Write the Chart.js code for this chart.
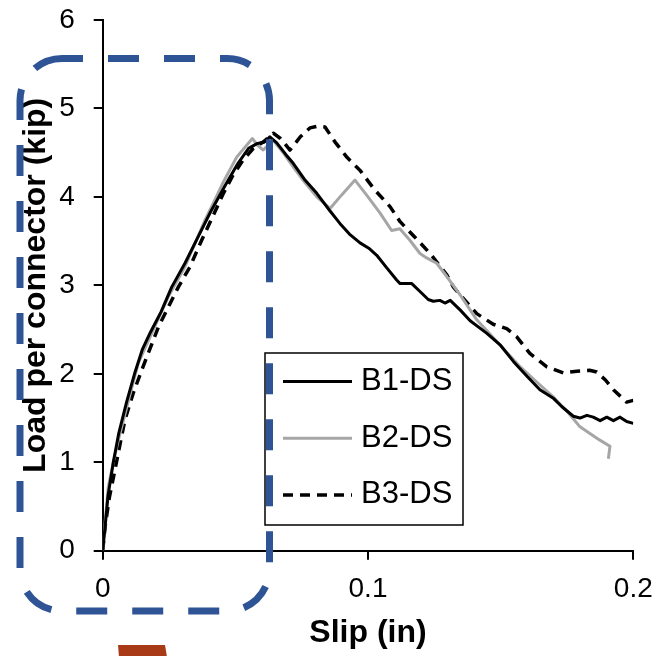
<!DOCTYPE html>
<html>
<head>
<meta charset="utf-8">
<script src="https://cdn.jsdelivr.net/npm/chart.js@4.4.1/dist/chart.umd.min.js"></script>
<style>
html, body { margin: 0; padding: 0; background: #fff; }
</style>
</head>
<body>
<canvas id="slipChart" width="658" height="656"></canvas>
<script>
// Datos: deslizamiento (in) y carga por conector (kip)
var seriesNames = ['B1-DS', 'B2-DS', 'B3-DS'];

var slipB1 = [0, 0.001, 0.002, 0.004, 0.006, 0.009, 0.012, 0.015, 0.018, 0.022, 0.026, 0.031, 0.036, 0.041, 0.046, 0.051, 0.055, 0.058, 0.061, 0.063, 0.0656, 0.069, 0.0718, 0.076, 0.0807, 0.0857, 0.0894, 0.093, 0.097, 0.1003, 0.1033, 0.107, 0.1108, 0.1121, 0.1165, 0.1196, 0.1227, 0.1246, 0.1271, 0.129, 0.131, 0.1348, 0.1385, 0.1447, 0.150, 0.1548, 0.160, 0.1648, 0.1700, 0.1730, 0.1774, 0.1799, 0.1825, 0.1849, 0.1875, 0.190, 0.1925, 0.195, 0.1975, 0.2];
var loadB1 = [0, 0.3, 0.62, 1.0, 1.32, 1.68, 2.0, 2.28, 2.47, 2.7, 2.98, 3.25, 3.55, 3.85, 4.12, 4.38, 4.55, 4.6, 4.62, 4.68, 4.61, 4.48, 4.38, 4.2, 4.04, 3.84, 3.70, 3.58, 3.48, 3.42, 3.34, 3.2, 3.06, 3.02, 3.02, 2.93, 2.84, 2.82, 2.83, 2.80, 2.83, 2.72, 2.60, 2.46, 2.32, 2.14, 1.97, 1.82, 1.72, 1.63, 1.52, 1.50, 1.53, 1.51, 1.47, 1.51, 1.47, 1.51, 1.46, 1.44];

var slipB2 = [0, 0.001, 0.0021, 0.004, 0.0059, 0.0097, 0.0134, 0.0185, 0.0247, 0.031, 0.0386, 0.0417, 0.0455, 0.0505, 0.0564, 0.0585, 0.0605, 0.0643, 0.068, 0.0718, 0.076, 0.0807, 0.0857, 0.09, 0.0951, 0.1, 0.1045, 0.1089, 0.112, 0.1158, 0.1196, 0.1221, 0.1259, 0.1297, 0.135, 0.141, 0.149, 0.1573, 0.1635, 0.1698, 0.1755, 0.1799, 0.1874, 0.1912, 0.1906];
var loadB2 = [0, 0.35, 0.72, 1.0, 1.25, 1.70, 2.12, 2.46, 2.87, 3.21, 3.74, 3.93, 4.17, 4.45, 4.66, 4.58, 4.53, 4.64, 4.5, 4.34, 4.17, 4.0, 3.87, 4.02, 4.19, 4.0, 3.82, 3.62, 3.64, 3.51, 3.36, 3.31, 3.25, 3.10, 2.88, 2.61, 2.35, 2.08, 1.91, 1.74, 1.56, 1.40, 1.25, 1.18, 1.04];

var slipB3 = [0, 0.0009, 0.0025, 0.0046, 0.0065, 0.0084, 0.0115, 0.0147, 0.021, 0.0285, 0.0329, 0.0373, 0.0415, 0.0455, 0.049, 0.053, 0.0568, 0.0605, 0.0643, 0.067, 0.0706, 0.0745, 0.0781, 0.081, 0.0838, 0.0876, 0.092, 0.097, 0.1025, 0.1083, 0.1121, 0.1175, 0.1234, 0.1297, 0.1322, 0.136, 0.141, 0.1472, 0.1523, 0.156, 0.161, 0.1673, 0.1736, 0.1787, 0.1835, 0.1862, 0.1895, 0.1925, 0.1975, 0.2];
var loadB3 = [0, 0.27, 0.6, 0.91, 1.2, 1.48, 1.78, 2.04, 2.53, 2.98, 3.21, 3.51, 3.78, 4.04, 4.24, 4.42, 4.55, 4.62, 4.72, 4.66, 4.53, 4.68, 4.78, 4.80, 4.79, 4.62, 4.45, 4.30, 4.08, 3.89, 3.72, 3.55, 3.36, 3.12, 2.98, 2.85, 2.68, 2.56, 2.51, 2.42, 2.23, 2.08, 2.01, 2.03, 2.04, 2.02, 1.93, 1.82, 1.68, 1.70];

var xTicks = [0, 0.1, 0.2];
var yTicks = [0, 1, 2, 3, 4, 5, 6];

function toPoints(xs, ys) {
    return xs.map(function(x, i) { return { x: x, y: ys[i] }; });
}

// quitar el relleno extra que las etiquetas piden al layout
function fixBox(s, w, h) {
    if (w) s.width = w;
    if (h) s.height = h;
    s.paddingTop = 0;
    s.paddingBottom = 0;
    s.paddingLeft = 0;
    s.paddingRight = 0;
}

Chart.defaults.font.family = '"Liberation Sans", Arial, sans-serif';
Chart.defaults.color = '#000';

// Leyenda con recuadro y dibujos sobrepuestos (marco azul punteado y rectangulo)
var overlays = {
    id: 'overlays',
    afterDraw: function(chart) {
        var ctx = chart.ctx;
        ctx.save();

        // leyenda
        ctx.fillStyle = '#fff';
        ctx.fillRect(265, 353, 198, 172);
        ctx.strokeStyle = '#000';
        ctx.lineWidth = 1.5;
        ctx.setLineDash([]);
        ctx.strokeRect(265, 353, 198, 172);
        chart.data.datasets.forEach(function(ds, i) {
            var y = 381.5 + i * 56.7;
            ctx.strokeStyle = ds.borderColor;
            ctx.lineWidth = ds.borderWidth;
            ctx.setLineDash(ds.borderDash || []);
            ctx.beginPath();
            ctx.moveTo(283, y);
            ctx.lineTo(352, y);
            ctx.stroke();
            ctx.setLineDash([]);
            ctx.fillStyle = '#000';
            ctx.font = '31px "Liberation Sans", Arial, sans-serif';
            ctx.textBaseline = 'middle';
            ctx.textAlign = 'left';
            ctx.fillText(ds.label, 361, y);
        });

        // marco azul redondeado punteado
        ctx.strokeStyle = '#2f5496';
        ctx.lineWidth = 7;
        ctx.setLineDash([31, 25]);
        ctx.lineDashOffset = 10;
        ctx.beginPath();
        ctx.roundRect(20, 58.5, 249.5, 552.5, 42);
        ctx.stroke();

        // rectangulo marron abajo
        ctx.setLineDash([]);
        ctx.fillStyle = '#a83a17';
        ctx.beginPath();
        ctx.moveTo(118, 645);
        ctx.lineTo(165, 645);
        ctx.lineTo(167, 657);
        ctx.lineTo(119, 657);
        ctx.closePath();
        ctx.fill();

        ctx.restore();
    }
};

var ctx = document.getElementById('slipChart').getContext('2d');
var chart = new Chart(ctx, {
    type: 'line',
    data: {
        datasets: [{
            label: seriesNames[0],
            data: toPoints(slipB1, loadB1),
            borderColor: '#000000',
            borderWidth: 3
        }, {
            label: seriesNames[1],
            data: toPoints(slipB2, loadB2),
            borderColor: '#a6a6a6',
            borderWidth: 3
        }, {
            label: seriesNames[2],
            data: toPoints(slipB3, loadB3),
            borderColor: '#000000',
            borderWidth: 3.5,
            borderDash: [10, 7]
        }]
    },
    options: {
        responsive: false,
        animation: false,
        layout: { padding: { top: 20, right: 24.7, left: 0, bottom: 0 } },
        elements: {
            point: { radius: 0 },
            line: { tension: 0, borderJoinStyle: 'round', fill: false }
        },
        plugins: {
            legend: { display: false },
            tooltip: { enabled: false }
        },
        scales: {
            x: {
                type: 'linear',
                min: xTicks[0],
                max: xTicks[xTicks.length - 1],
                afterFit: function(s) { fixBox(s, 0, 105.3); },
                afterBuildTicks: function(s) {
                    s.ticks = xTicks.map(function(v) { return { value: v }; });
                },
                ticks: {
                    font: { size: 28 },
                    padding: 12.5,
                    maxRotation: 0,
                    callback: function(v) { return v === 0 ? '0' : v.toFixed(1); }
                },
                grid: { drawOnChartArea: false, drawTicks: true, tickLength: 9, color: '#000', lineWidth: 2 },
                border: { display: true, color: '#000', width: 2 },
                title: {
                    display: true,
                    text: 'Slip (in)',
                    font: { size: 32, weight: 'bold' },
                    padding: { top: 0, bottom: 4 }
                }
            },
            y: {
                min: yTicks[0],
                max: yTicks[yTicks.length - 1],
                afterFit: function(s) { fixBox(s, 102.7, 0); },
                afterBuildTicks: function(s) {
                    s.ticks = yTicks.map(function(v) { return { value: v }; });
                },
                ticks: {
                    font: { size: 28 },
                    padding: 19
                },
                grid: { drawOnChartArea: false, drawTicks: true, tickLength: 9, color: '#000', lineWidth: 2 },
                border: { display: true, color: '#000', width: 2 },
                title: {
                    display: true,
                    text: 'Load per connector (kip)',
                    font: { size: 32, weight: 'bold' },
                    padding: { top: 17, bottom: 0 }
                }
            }
        }
    },
    plugins: [overlays]
});
</script>
</body>
</html>
